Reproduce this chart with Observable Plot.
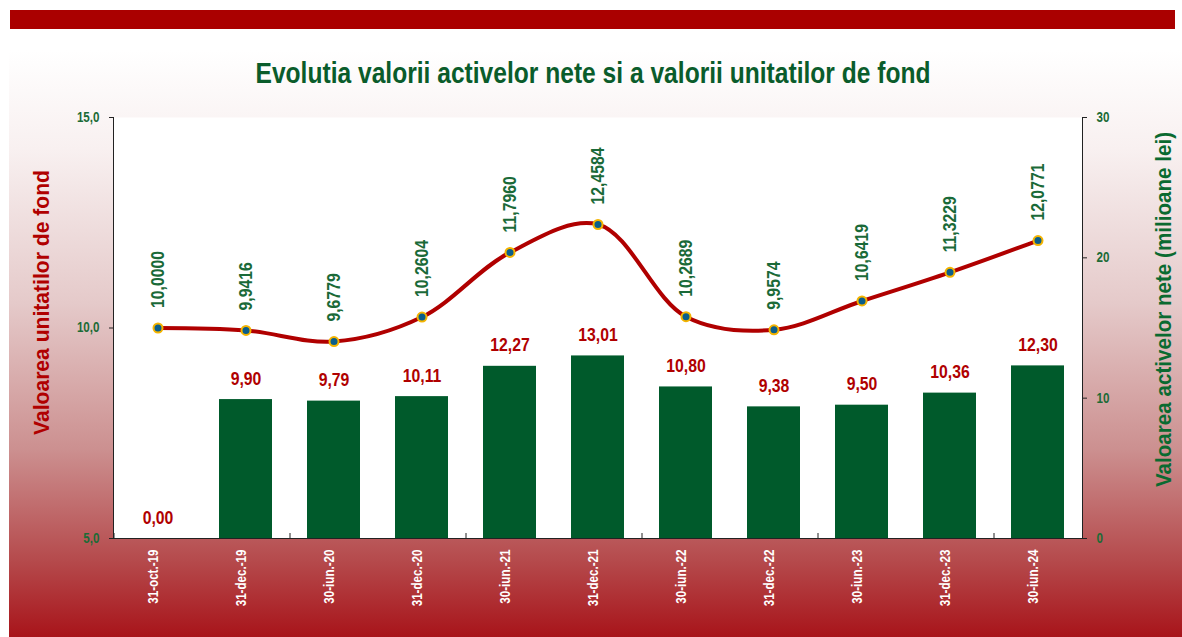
<!DOCTYPE html>
<html>
<head>
<meta charset="utf-8">
<script src="https://cdn.jsdelivr.net/npm/d3@7"></script>
<script src="https://cdn.jsdelivr.net/npm/@observablehq/plot@0.6"></script>
<style>
  html, body { margin: 0; padding: 0; background: #fff; }
  #wrap { position: relative; width: 1182px; height: 637px; overflow: hidden; }
  #topbar { position: absolute; left: 10px; top: 10px; width: 1165px; height: 19px; background: #aa0000; }
  #grad { position: absolute; left: 9px; top: 50px; right: 0; bottom: 0;
    background: linear-gradient(to bottom, #ffffff 0%, #f8f0f0 17%, #e5caca 43%, #cc9090 68%, #b54a4c 87%, #a8141a 100%); }
  #chart { position: absolute; left: 0; top: 0; }
</style>
</head>
<body>
<div id="wrap">
  <div id="grad"></div>
  <div id="topbar"></div>
  <div id="chart"></div>
</div>
<script>
const title = "Evolutia valorii activelor nete si a valorii unitatilor de fond";
const leftTitle = "Valoarea unitatilor de fond";
const rightTitle = "Valoarea activelor nete (milioane lei)";
const dates = ["31-oct.-19", "31-dec.-19", "30-iun.-20", "31-dec.-20", "30-iun.-21", "31-dec.-21",
               "30-iun.-22", "31-dec.-22", "30-iun.-23", "31-dec.-23", "30-iun.-24"];
const netAssets = [0.00, 9.90, 9.79, 10.11, 12.27, 13.01, 10.80, 9.38, 9.50, 10.36, 12.30]; // milioane lei (right axis)
const unitValue = [10.0000, 9.9416, 9.6779, 10.2604, 11.7960, 12.4584, 10.2689, 9.9574, 10.6419, 11.3229, 12.0771]; // left axis
const leftTicks = [5, 10, 15];
const rightTicks = [0, 10, 20, 30];

// right axis [0,30] mapped onto left axis [5,15]
const toLeft = v => 5 + v / 3;
const fromLeft = v => Math.round((v - 5) * 3);
const comma = (v, d) => v.toFixed(d).replace(".", ",");

const idx = dates.map((d, i) => i);
const font = "'Liberation Sans', Arial, Helvetica, sans-serif";

const chart = Plot.plot({
  width: 1182,
  height: 637,
  marginTop: 117,
  marginBottom: 99,
  marginLeft: 113,
  marginRight: 100,
  style: { background: "transparent", fontFamily: font, overflow: "visible" },
  x: { domain: dates, paddingInner: 0.4, paddingOuter: 0.2, axis: null },
  y: { domain: [5, 15], axis: null },
  marks: [
    Plot.frame({ fill: "white", stroke: null }),
    Plot.barY(idx, { x: i => dates[i], y1: 5, y2: i => toLeft(netAssets[i]), fill: "#005a2b" }),
    Plot.frame({ anchor: "left", stroke: "#222" }),
    Plot.frame({ anchor: "right", stroke: "#222" }),
    Plot.frame({ anchor: "bottom", stroke: "#222" }),
    Plot.ruleX(idx.filter(i => i % 2 === 0), { x: i => dates[i], dx: -44, insetTop: 416, stroke: "#222" }),
    Plot.axisY({ anchor: "left", ticks: leftTicks, tickFormat: d => comma(d, 1), tickSize: 4, tickPadding: 10,
      stroke: "#222", fill: "#1b6b36", fontSize: 14, fontWeight: "bold", label: null }),
    Plot.axisY({ anchor: "right", ticks: rightTicks.map(toLeft), tickFormat: d => String(fromLeft(d)), tickSize: 4, tickPadding: 10,
      stroke: "#222", fill: "#1b6b36", fontSize: 14, fontWeight: "bold", label: null }),
    Plot.text(dates, { x: d => d, text: d => d, frameAnchor: "bottom", rotate: -90, textAnchor: "end", dy: 11,
      fill: "white", fontSize: 14, fontWeight: "bold" }),
    Plot.text(idx, { x: i => dates[i], y: i => toLeft(netAssets[i]), text: i => comma(netAssets[i], 2),
      lineAnchor: "bottom", dy: -15, fill: "#b00000", fontSize: 19, fontWeight: "bold" }),
    Plot.line(idx, { x: i => dates[i], y: i => unitValue[i], curve: "catmull-rom", stroke: "#b00000", strokeWidth: 4 }),
    Plot.dot(idx, { x: i => dates[i], y: i => unitValue[i], r: 4.5, fill: "#0b5e8a", stroke: "#f4b400", strokeWidth: 2 }),
    Plot.text(idx, { x: i => dates[i], y: i => unitValue[i], text: i => comma(unitValue[i], 4), rotate: -90,
      textAnchor: "start", dy: -20, fill: "#1a6a38", fontSize: 19, fontWeight: "bold" }),
    Plot.text([title], { text: d => d, frameAnchor: "top", dx: -5, dy: -35, lineAnchor: "bottom",
      fontSize: 29, fontWeight: "bold", fill: "#0a5c2b", className: "ttl-main" }),
    Plot.text([leftTitle], { text: d => d, frameAnchor: "left", dx: -72, dy: 107, rotate: -90, textAnchor: "start",
      fontSize: 22, fontWeight: "bold", fill: "#b00000", className: "ttl-left" }),
    Plot.text([rightTitle], { text: d => d, frameAnchor: "right", dx: 81, dy: 159, rotate: -90, textAnchor: "start",
      fontSize: 22, fontWeight: "bold", fill: "#0a6a30", className: "ttl-right" })
  ]
});

document.getElementById("chart").appendChild(chart);

// condense glyphs horizontally (narrow bold look of the original)
const fixed = { "ttl-main": 675, "ttl-left": 265, "ttl-right": 355 };
chart.querySelectorAll("text").forEach(el => {
  const g = el.closest("g");
  let target = null;
  for (const k in fixed) if (g && g.classList.contains(k)) target = fixed[k];
  const len = el.getComputedTextLength();
  if (!len) return;
  el.setAttribute("textLength", target != null ? target : len * 0.83);
  el.setAttribute("lengthAdjust", "spacingAndGlyphs");
});
</script>
</body>
</html>
